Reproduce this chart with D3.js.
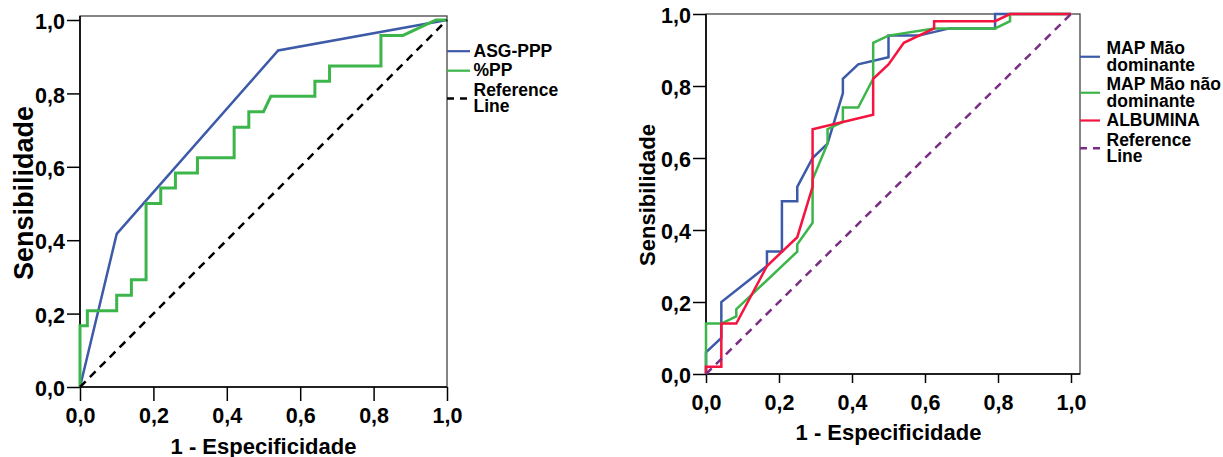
<!DOCTYPE html>
<html>
<head>
<meta charset="utf-8">
<script src="https://cdn.jsdelivr.net/npm/d3@7"></script>
<style>
  body { margin: 0; background: #fff; }
  svg text { font-family: "Liberation Sans", Arial, sans-serif; font-weight: bold; fill: #000; }
</style>
</head>
<body>
<svg id="chart" width="1223" height="457"></svg>
<script>
// shared axis setup
const tickValues = [0, 0.2, 0.4, 0.6, 0.8, 1.0];
const xTitle = '1 - Especificidade';
const yTitle = 'Sensibilidade';
const refLine = [0, 1]; // diagonal, same for x and y

// left plot - ASG-PPP and %PP
const asgFpr = [0, 0.10, 0.54, 1];
const asgTpr = [0, 0.417, 0.917, 1];
const ppFpr = [0, 0, 0.02, 0.02, 0.10, 0.10, 0.14, 0.14, 0.18, 0.18, 0.22, 0.22, 0.26, 0.26, 0.32, 0.32,
  0.42, 0.42, 0.46, 0.46, 0.50, 0.52, 0.64, 0.64, 0.68, 0.68, 0.82, 0.82, 0.88, 0.97, 1];
const ppTpr = [0, 0.167, 0.167, 0.208, 0.208, 0.25, 0.25, 0.292, 0.292, 0.5, 0.5, 0.542, 0.542, 0.583, 0.583, 0.625,
  0.625, 0.708, 0.708, 0.75, 0.75, 0.792, 0.792, 0.833, 0.833, 0.875, 0.875, 0.958, 0.958, 1, 1];

// right plot - MAP and albumina
const mapDomFpr = [0, 0, 0.042, 0.042, 0.167, 0.167, 0.208, 0.208, 0.25, 0.25, 0.292, 0.333, 0.375, 0.375,
  0.417, 0.5, 0.5, 0.583, 0.667, 0.792, 0.792, 1];
const mapDomTpr = [0, 0.06, 0.10, 0.20, 0.30, 0.34, 0.34, 0.48, 0.48, 0.52, 0.60, 0.64, 0.78, 0.82,
  0.86, 0.88, 0.94, 0.94, 0.96, 0.96, 1, 1];
const mapNaoFpr = [0, 0, 0.042, 0.083, 0.083, 0.25, 0.25, 0.292, 0.292, 0.333, 0.333, 0.375, 0.375, 0.417,
  0.458, 0.458, 0.5, 0.625, 0.792, 0.833, 0.833, 1];
const mapNaoTpr = [0, 0.14, 0.14, 0.16, 0.18, 0.34, 0.36, 0.42, 0.54, 0.64, 0.68, 0.70, 0.74, 0.74,
  0.82, 0.92, 0.94, 0.96, 0.96, 0.98, 1, 1];
const albFpr = [0, 0, 0.042, 0.042, 0.083, 0.167, 0.25, 0.292, 0.292, 0.458, 0.458, 0.5, 0.542, 0.625,
  0.625, 0.792, 0.833, 1];
const albTpr = [0, 0.02, 0.02, 0.14, 0.14, 0.30, 0.38, 0.52, 0.68, 0.72, 0.82, 0.86, 0.92, 0.96,
  0.98, 0.98, 1, 1];

const leftSeries = [
  { label: ['ASG-PPP'], fpr: asgFpr, tpr: asgTpr, color: '#3d5aa9', width: 2.5 },
  { label: ['%PP'], fpr: ppFpr, tpr: ppTpr, color: '#3cb54a', width: 3 },
  { label: ['Reference', 'Line'], fpr: refLine, tpr: refLine, color: '#000', width: 2.5, dash: '8,6' }
];
const rightSeries = [
  { label: ['MAP Mão', 'dominante'], fpr: mapDomFpr, tpr: mapDomTpr, color: '#3d5aa9', width: 2.5 },
  { label: ['MAP Mão não', 'dominante'], fpr: mapNaoFpr, tpr: mapNaoTpr, color: '#3cb54a', width: 2.5 },
  { label: ['ALBUMINA'], fpr: albFpr, tpr: albTpr, color: '#f5143f', width: 2.5 },
  { label: ['Reference', 'Line'], fpr: refLine, tpr: refLine, color: '#7a2d84', width: 2.5, dash: '8,6' }
];

const ptBR = d3.formatLocale({ decimal: ',', thousands: '.', grouping: [3], currency: ['R$', ''] });
const fmt = ptBR.format('.1f');

const svg = d3.select('#chart');

function drawRoc(series, opt) {
  const g = svg.append('g');
  const x = d3.scaleLinear().domain([0, 1]).range([opt.left, opt.right]);
  const y = d3.scaleLinear().domain([0, 1]).range([opt.bottom, opt.top]);

  // frame (top/right)
  g.append('rect')
    .attr('x', opt.left).attr('y', opt.frameTop)
    .attr('width', opt.frameRight - opt.left).attr('height', opt.bottom - opt.frameTop)
    .attr('fill', 'none').attr('stroke', '#444').attr('stroke-width', 1.3);

  const xAxis = g.append('g')
    .attr('transform', `translate(0,${opt.bottom})`)
    .call(d3.axisBottom(x).tickValues(tickValues).tickFormat(fmt).tickSizeInner(opt.xTick).tickSizeOuter(0).tickPadding(0));
  xAxis.select('.domain').remove();
  xAxis.selectAll('.tick line').attr('stroke', '#000').attr('stroke-width', 1.5);
  xAxis.selectAll('.tick text')
    .attr('y', 35.5).attr('dy', null)
    .attr('font-size', 21.5).attr('font-family', null);

  const yAxis = g.append('g')
    .attr('transform', `translate(${opt.left},0)`)
    .call(d3.axisLeft(y).tickValues(tickValues).tickFormat(fmt).tickSizeInner(opt.yTick).tickSizeOuter(0));
  yAxis.select('.domain').remove();
  yAxis.selectAll('.tick line').attr('stroke', '#000').attr('stroke-width', 1.5);
  yAxis.selectAll('.tick text')
    .attr('x', -15).attr('dy', '0.4em')
    .attr('font-size', 21.5).attr('font-family', null);

  // axis lines
  g.append('line').attr('x1', opt.left).attr('x2', opt.left)
    .attr('y1', opt.frameTop).attr('y2', opt.bottom)
    .attr('stroke', '#000').attr('stroke-width', 1.6);
  g.append('line').attr('x1', opt.left).attr('x2', opt.frameRight)
    .attr('y1', opt.bottom).attr('y2', opt.bottom)
    .attr('stroke', '#000').attr('stroke-width', 1.6);

  const line = d3.line().x(d => x(d[0])).y(d => y(d[1]));
  g.selectAll('path.roc')
    .data(series)
    .join('path')
    .attr('class', 'roc')
    .attr('d', d => line(d3.zip(d.fpr, d.tpr)))
    .attr('fill', 'none')
    .attr('stroke', d => d.color)
    .attr('stroke-width', d => d.width)
    .attr('stroke-dasharray', d => d.dash || null)
    .attr('stroke-linejoin', 'miter');

  // titles
  g.append('text')
    .attr('x', (opt.left + opt.right) / 2).attr('y', opt.xTitleY)
    .attr('text-anchor', 'middle').attr('font-size', 22)
    .text(xTitle);
  g.append('text')
    .attr('transform', `translate(${opt.yTitleX},${opt.yTitleY}) rotate(-90)`)
    .attr('text-anchor', 'middle').attr('font-size', opt.yTitleSize)
    .text(yTitle);

  // legend
  const lineH = 16.5, entryGap = 19.5;
  let base = opt.legendY;
  series.forEach(s => {
    const n = s.label.length;
    const lineY = base - 5.5 + (n - 1) * lineH / 2;
    g.append('line')
      .attr('x1', opt.frameRight).attr('x2', opt.frameRight + opt.legendLen)
      .attr('y1', lineY).attr('y2', lineY)
      .attr('stroke', s.color).attr('stroke-width', s.dash ? 2.5 : 2.2)
      .attr('stroke-dasharray', s.dash ? '7,6' : null);
    s.label.forEach((t, i) => {
      g.append('text')
        .attr('x', opt.frameRight + 26.5).attr('y', base + i * lineH)
        .attr('font-size', 17.5)
        .text(t);
    });
    base += (n - 1) * lineH + entryGap;
  });
}

drawRoc(leftSeries, {
  left: 80, right: 447, top: 20, bottom: 387, frameTop: 16, frameRight: 447,
  xTick: 14, yTick: 13, xTitleY: 454, yTitleX: 33, yTitleY: 193, yTitleSize: 27,
  legendY: 56.7, legendLen: 23
});
drawRoc(rightSeries, {
  left: 706, right: 1071, top: 14, bottom: 374, frameTop: 14, frameRight: 1080,
  xTick: 9, yTick: 13, xTitleY: 440, yTitleX: 655, yTitleY: 195, yTitleSize: 22,
  legendY: 54, legendLen: 20
});
</script>
</body>
</html>
